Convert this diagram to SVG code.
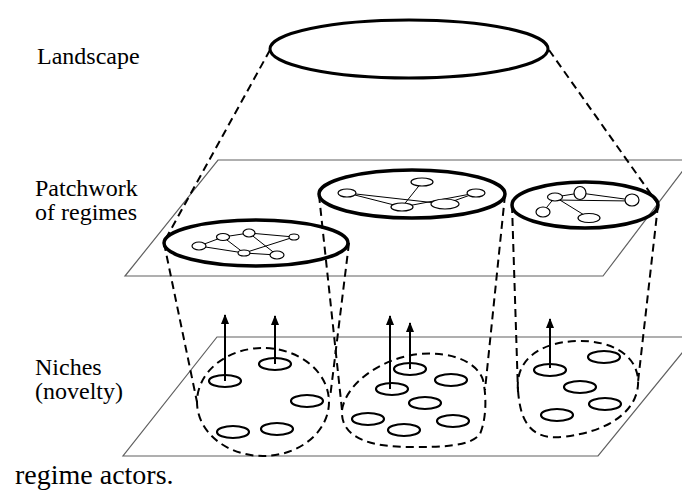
<svg xmlns="http://www.w3.org/2000/svg" width="682" height="490" viewBox="0 0 682 490">
<style>
.plane{fill:none;stroke:#606060;stroke-width:1.2}
.big{fill:none;stroke:#000;stroke-width:3.5}
.land{fill:none;stroke:#000;stroke-width:3}
.dash{fill:none;stroke:#000;stroke-width:2;stroke-dasharray:8 5}
.net{stroke:#000;stroke-width:1;fill:none}
.nd{fill:#fff;stroke:#000;stroke-width:1.2}
.act{fill:none;stroke:#000;stroke-width:2.2}
.arr{stroke:#000;stroke-width:2;fill:none;marker-end:url(#ah)}
.lbl{font-family:"Liberation Serif","Times New Roman",serif;font-size:24px;fill:#000}
</style>
<defs>
<marker id="ah" viewBox="0 0 10 10" refX="9" refY="5" markerWidth="10" markerHeight="8" markerUnits="userSpaceOnUse" orient="auto" preserveAspectRatio="none">
<path d="M0,0 L10,5 L0,10 z" fill="#000"/>
</marker>
</defs>
<rect width="682" height="490" fill="#fff"/>

<g id="planes">
<polygon class="plane" points="218,160 691,160 603,276 125,276"/>
<polygon class="plane" points="217,337 695,337 598,456 123,456"/>
</g>

<g id="labels">
<text class="lbl" x="37" y="64">Landscape</text>
<text class="lbl" x="35" y="196">Patchwork</text>
<text class="lbl" x="35" y="220">of regimes</text>
<text class="lbl" x="35" y="375">Niches</text>
<text class="lbl" x="35" y="399">(novelty)</text>
<text class="lbl" x="15" y="484" style="font-size:28px">regime actors.</text>
</g>

<g id="connectors">
<line class="dash" x1="270" y1="50" x2="164" y2="242"/>
<line class="dash" x1="549" y1="50" x2="658" y2="204"/>
<path class="dash" d="M164,243 L197,402"/>
<path class="dash" d="M349,243 L330,398"/>
<path class="dash" d="M319,195 L342,410"/>
<path class="dash" d="M505,195 L485,390"/>
<path class="dash" d="M512,205 L518,392"/>
<path class="dash" d="M658,205 L638,382"/>
</g>

<g id="landscape">
<ellipse class="land" cx="409" cy="49" rx="139" ry="29"/>
</g>

<g id="regime-left">
<ellipse class="big" cx="256" cy="243" rx="92" ry="23"/>
<g class="net">
<line x1="199" y1="246" x2="223" y2="237"/><line x1="223" y1="237" x2="249" y2="233"/>
<line x1="249" y1="233" x2="294" y2="237"/><line x1="223" y1="237" x2="244" y2="253"/>
<line x1="249" y1="233" x2="277" y2="255"/><line x1="244" y1="253" x2="294" y2="237"/>
<line x1="199" y1="246" x2="244" y2="253"/><line x1="244" y1="253" x2="277" y2="255"/>
</g>
<ellipse class="nd" cx="199" cy="246" rx="7" ry="4"/>
<ellipse class="nd" cx="223" cy="237" rx="6.5" ry="3.5"/>
<ellipse class="nd" cx="249" cy="233" rx="6" ry="4"/>
<ellipse class="nd" cx="294" cy="237" rx="5" ry="3"/>
<ellipse class="nd" cx="244" cy="253" rx="6" ry="3"/>
<ellipse class="nd" cx="277" cy="255" rx="7" ry="4"/>
</g>

<g id="regime-mid">
<ellipse class="big" cx="412" cy="194" rx="93" ry="24"/>
<g class="net">
<line x1="347" y1="193" x2="402" y2="207"/><line x1="347" y1="193" x2="445" y2="204"/>
<line x1="422" y1="182" x2="402" y2="207"/><line x1="445" y1="204" x2="476" y2="193"/>
<line x1="402" y1="207" x2="476" y2="193"/>
</g>
<ellipse class="nd" cx="347" cy="193" rx="9" ry="4"/>
<ellipse class="nd" cx="422" cy="182" rx="11" ry="4"/>
<ellipse class="nd" cx="476" cy="193" rx="9" ry="4"/>
<ellipse class="nd" cx="445" cy="204" rx="14" ry="5"/>
<ellipse class="nd" cx="402" cy="207" rx="11" ry="4"/>
</g>

<g id="regime-right">
<ellipse class="big" cx="585" cy="205" rx="73" ry="23"/>
<g class="net">
<line x1="555" y1="197" x2="580" y2="193"/><line x1="580" y1="193" x2="632" y2="200"/>
<line x1="555" y1="200" x2="632" y2="201"/><line x1="555" y1="197" x2="589" y2="218"/>
<line x1="543" y1="212" x2="555" y2="197"/>
</g>
<ellipse class="nd" cx="555" cy="197" rx="7.5" ry="4"/>
<ellipse class="nd" cx="580" cy="193" rx="6" ry="6.5"/>
<ellipse class="nd" cx="632" cy="200" rx="7" ry="6"/>
<ellipse class="nd" cx="543" cy="212" rx="7" ry="5"/>
<ellipse class="nd" cx="589" cy="218" rx="11" ry="4.5"/>
</g>

<g id="niche-left">
<ellipse class="dash" cx="263" cy="402" rx="66" ry="54"/>
<ellipse class="act" cx="225" cy="381" rx="16" ry="6"/>
<ellipse class="act" cx="275" cy="364" rx="16" ry="6"/>
<ellipse class="act" cx="307" cy="401" rx="16" ry="6"/>
<ellipse class="act" cx="233" cy="432" rx="16" ry="6"/>
<ellipse class="act" cx="277" cy="429" rx="16" ry="6"/>
<line class="arr" x1="225" y1="381" x2="225" y2="315"/>
<line class="arr" x1="275" y1="364" x2="275" y2="316"/>
</g>

<g id="niche-mid">
<path class="dash" d="M342,410 C346,384 380,358 420,354 C455,351 478,364 483,380 C487,398 486,420 480,434 C470,447 440,447 410,447 C375,447 340,440 342,410 Z"/>
<ellipse class="act" cx="392" cy="389" rx="16" ry="6"/>
<ellipse class="act" cx="410" cy="369" rx="16" ry="6"/>
<ellipse class="act" cx="451" cy="380" rx="16" ry="6"/>
<ellipse class="act" cx="425" cy="403" rx="16" ry="6"/>
<ellipse class="act" cx="368" cy="419" rx="16" ry="6"/>
<ellipse class="act" cx="404" cy="430" rx="16" ry="6"/>
<ellipse class="act" cx="453" cy="421" rx="16" ry="6"/>
<line class="arr" x1="390" y1="389" x2="390" y2="316"/>
<line class="arr" x1="410" y1="369" x2="410" y2="323"/>
</g>

<g id="niche-right">
<path class="dash" d="M518,390 C515,360 540,342 577,341 C612,340 640,356 638,385 C636,412 608,432 562,437 C528,440 520,418 518,390 Z"/>
<ellipse class="act" cx="550" cy="370" rx="16" ry="6"/>
<ellipse class="act" cx="604" cy="357" rx="16" ry="6"/>
<ellipse class="act" cx="580" cy="387" rx="16" ry="6"/>
<ellipse class="act" cx="605" cy="404" rx="16" ry="6"/>
<ellipse class="act" cx="557" cy="415" rx="16" ry="6"/>
<line class="arr" x1="550" y1="368" x2="550" y2="319"/>
</g>
</svg>
